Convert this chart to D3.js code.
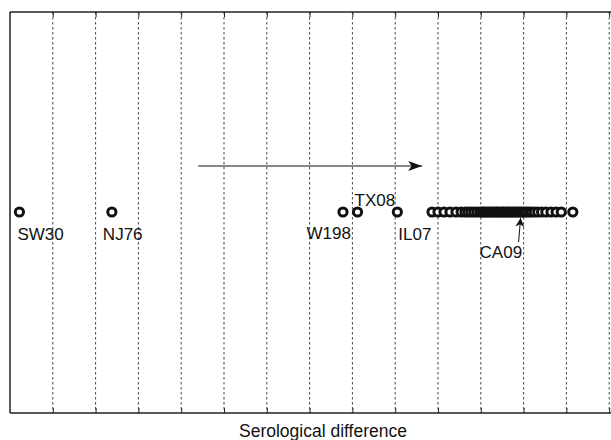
<!DOCTYPE html>
<html>
<head>
<meta charset="utf-8">
<script src="https://cdn.jsdelivr.net/npm/d3@7"></script>
<style>
  body { margin: 0; background: #fff; }
  svg { display: block; font-family: 'Liberation Sans', Arial, sans-serif; }
</style>
</head>
<body>
<svg class="canvas" width="611" height="440"></svg>
<script>
'use strict';

// Serological positions (in antigenic units, one unit per grid column)
const namedStrains = ['SW30', 'NJ76', 'W198', 'TX08', 'IL07'],
  namedValues = [0.22, 2.38, 7.78, 8.12, 9.05],
  clusterValues = [
    9.86, 10.0, 10.14, 10.28, 10.42, 10.54, 10.63, 10.7, 10.77, 10.84,
    10.91, 10.98, 11.03, 11.07, 11.12, 11.17, 11.21, 11.26, 11.31, 11.36,
    11.4, 11.45, 11.5, 11.54, 11.59, 11.64, 11.68, 11.73, 11.78, 11.82,
    11.87, 11.92, 11.96, 12.01, 12.06, 12.12, 12.18, 12.25, 12.33, 12.42,
    12.52, 12.64, 12.76, 12.88, 13.15,
  ],
  gridTicks = [1, 2, 3, 4, 5, 6, 7, 8, 9, 10, 11, 12, 13, 14],
  trendArrow = [4.4, 9.63],
  ca09Value = 11.93;

const svg = d3.select('.canvas'),
  margin = { left: 10, top: 12, bottom: 27 },
  plotH = 440 - margin.top - margin.bottom,
  x = d3.scaleLinear([0, 14], [margin.left, margin.left + 42.8 * 14]),
  rowY = 212;

const defs = svg.append('defs');
defs
  .append('marker')
  .attr('id', 'head')
  .attr('viewBox', '0 0 14 10')
  .attr('refX', 14)
  .attr('refY', 5)
  .attr('markerWidth', 14)
  .attr('markerHeight', 10)
  .attr('markerUnits', 'userSpaceOnUse')
  .attr('orient', 'auto')
  .append('path')
  .attr('d', 'M0,0 L14,5 L0,10 L3.5,5 Z')
  .attr('fill', '#111');
defs
  .append('marker')
  .attr('id', 'small-head')
  .attr('viewBox', '0 0 10 10')
  .attr('refX', 10)
  .attr('refY', 5)
  .attr('markerWidth', 10)
  .attr('markerHeight', 9)
  .attr('markerUnits', 'userSpaceOnUse')
  .attr('orient', 'auto')
  .append('path')
  .attr('d', 'M0,0 L10,5 L0,10 L3,5 Z')
  .attr('fill', '#111');

// Dashed gridlines
svg
  .append('g')
  .selectAll('line')
  .data(gridTicks)
  .join('line')
  .attr('x1', d => x(d))
  .attr('x2', d => x(d))
  .attr('y1', margin.top)
  .attr('y2', margin.top + plotH)
  .attr('stroke', '#444')
  .attr('stroke-width', 1)
  .attr('stroke-dasharray', '2.5,2.5');

// Bottom and top axes with inward ticks
const bottomAxis = d3.axisBottom(x).tickValues(gridTicks).tickSize(-5).tickFormat('');
const topAxis = d3.axisTop(x).tickValues(gridTicks).tickSize(-5).tickFormat('');
[
  [bottomAxis, margin.top + plotH],
  [topAxis, margin.top],
].forEach(([ax, y]) => {
  const g = svg
    .append('g')
    .attr('transform', `translate(0,${y})`)
    .call(ax);
  g.select('.domain').remove();
  g.selectAll('line').attr('stroke', '#222').attr('stroke-width', 1);
  g.append('line')
    .attr('x1', margin.left)
    .attr('x2', 620)
    .attr('stroke', '#222')
    .attr('stroke-width', 1.5);
});
svg
  .append('line')
  .attr('x1', margin.left)
  .attr('x2', margin.left)
  .attr('y1', margin.top)
  .attr('y2', margin.top + plotH)
  .attr('stroke', '#222')
  .attr('stroke-width', 1.5);

// Drift arrow
svg
  .append('line')
  .attr('x1', x(trendArrow[0]))
  .attr('x2', x(trendArrow[1]))
  .attr('y1', 166)
  .attr('y2', 166)
  .attr('stroke', '#111')
  .attr('stroke-width', 1)
  .attr('marker-end', 'url(#head)');

// Points
const allValues = [...namedValues, ...clusterValues];
svg
  .append('g')
  .selectAll('circle')
  .data(allValues)
  .join('circle')
  .attr('cx', d => x(d))
  .attr('cy', rowY)
  .attr('r', 4.1)
  .attr('fill', '#fff')
  .attr('stroke', '#111')
  .attr('stroke-width', 3);

// Labels
const labelOffsets = {
  SW30: { dx: -2, dy: 28, anchor: 'start' },
  NJ76: { dx: -9, dy: 28, anchor: 'start' },
  W198: { dx: 8, dy: 27, anchor: 'end' },
  TX08: { dx: -3, dy: -6, anchor: 'start' },
  IL07: { dx: 1, dy: 28, anchor: 'start' },
};
svg
  .append('g')
  .selectAll('text')
  .data(namedStrains)
  .join('text')
  .attr('x', (d, i) => x(namedValues[i]) + labelOffsets[d].dx)
  .attr('y', d => rowY + labelOffsets[d].dy)
  .attr('text-anchor', d => labelOffsets[d].anchor)
  .attr('font-size', 17)
  .attr('fill', '#111')
  .text(d => d);

// CA09 annotation
svg
  .append('line')
  .attr('x1', x(ca09Value) - 2)
  .attr('y1', 242)
  .attr('x2', x(ca09Value))
  .attr('y2', 218)
  .attr('stroke', '#111')
  .attr('stroke-width', 1)
  .attr('marker-end', 'url(#small-head)');
svg
  .append('text')
  .attr('x', x(ca09Value) - 41)
  .attr('y', 258)
  .attr('font-size', 17)
  .attr('fill', '#111')
  .text('CA09');

// Axis title
svg
  .append('text')
  .attr('x', 323)
  .attr('y', 437)
  .attr('text-anchor', 'middle')
  .attr('font-size', 17.5)
  .attr('fill', '#111')
  .text('Serological difference');
</script>
</body>
</html>
